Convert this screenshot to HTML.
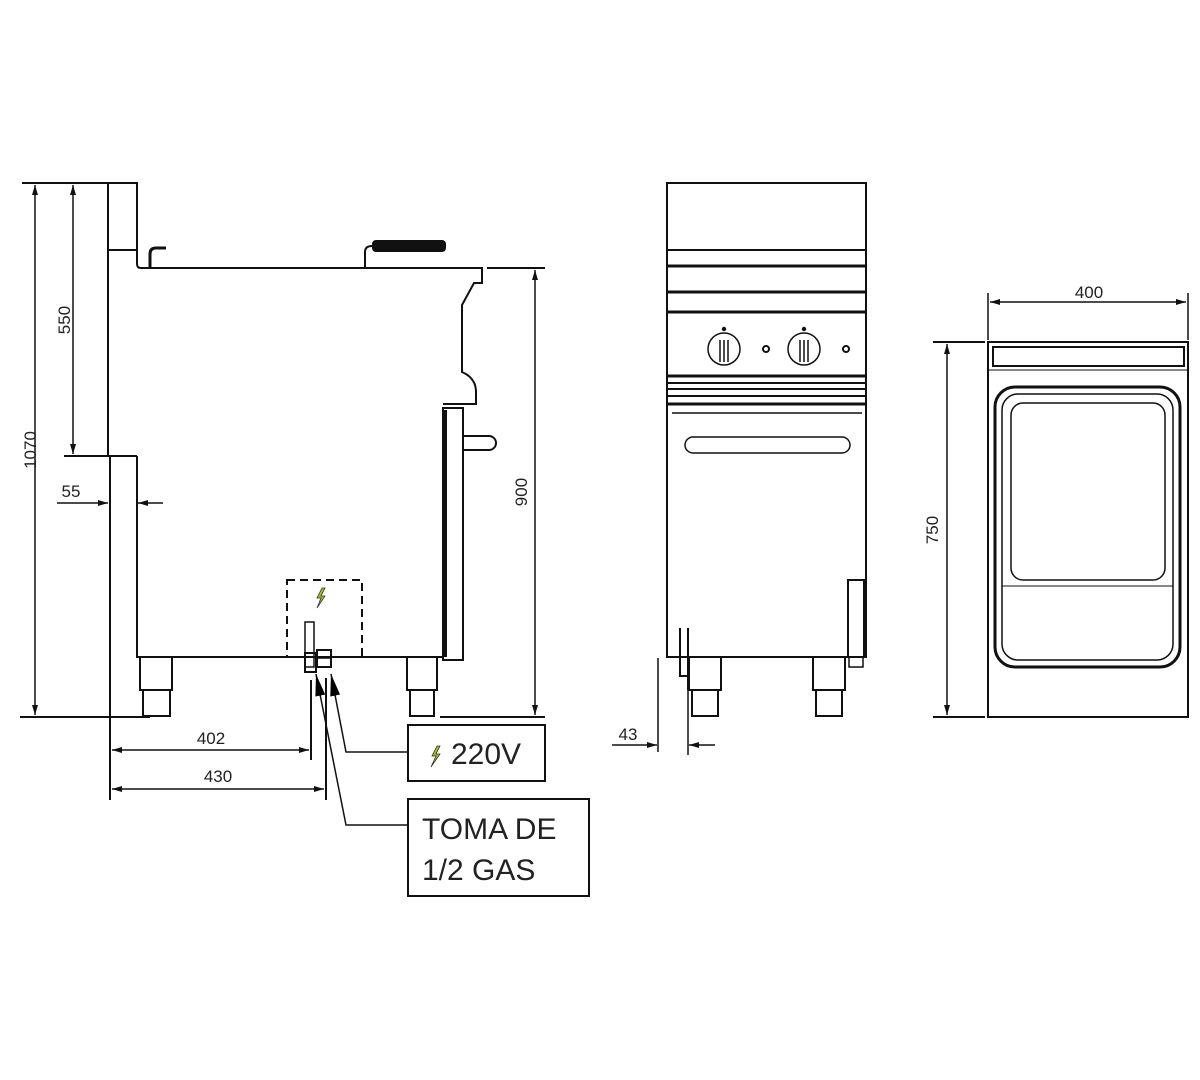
<!DOCTYPE html>
<html><head><meta charset="utf-8"><style>html,body{margin:0;padding:0;background:#fff}svg{display:block}text{font-family:"Liberation Sans",sans-serif;fill:#222}</style></head>
<body>
<svg width="1200" height="1080" viewBox="0 0 1200 1080" xmlns="http://www.w3.org/2000/svg">
<defs>
<marker id="a" viewBox="0 0 10 6" refX="10" refY="3" markerWidth="10" markerHeight="6" orient="auto-start-reverse" markerUnits="userSpaceOnUse"><path d="M0,0 L10,3 L0,6 Z" fill="#111"/></marker>
<marker id="b" viewBox="0 0 22 10" refX="22" refY="5" markerWidth="22" markerHeight="10" orient="auto-start-reverse" markerUnits="userSpaceOnUse"><path d="M0,0 L22,5 L0,10 Z" fill="#000"/></marker>
</defs>
<g fill="none" stroke="#111" stroke-width="2">
<line x1="22" y1="183" x2="107" y2="183"/>
<line x1="20" y1="717" x2="150" y2="717"/>
<line x1="35" y1="185" x2="35" y2="715" marker-start="url(#a)" marker-end="url(#a)" stroke-width="1.5"/>
<line x1="73" y1="185" x2="73" y2="454" marker-start="url(#a)" marker-end="url(#a)" stroke-width="1.5"/>
<line x1="64" y1="456" x2="137" y2="456"/>
<line x1="57" y1="503" x2="108" y2="503" marker-end="url(#a)" stroke-width="1.5"/>
<line x1="163" y1="503" x2="138" y2="503" marker-end="url(#a)" stroke-width="1.5"/>
<line x1="487" y1="268" x2="545" y2="268"/>
<line x1="440" y1="717" x2="545" y2="717"/>
<line x1="535" y1="270" x2="535" y2="715" marker-start="url(#a)" marker-end="url(#a)" stroke-width="1.5"/>
<line x1="110" y1="456" x2="110" y2="800"/>
<line x1="311" y1="680" x2="311" y2="760"/>
<line x1="326" y1="678" x2="326" y2="800"/>
<line x1="112" y1="750" x2="309" y2="750" marker-start="url(#a)" marker-end="url(#a)" stroke-width="1.5"/>
<line x1="112" y1="789" x2="324" y2="789" marker-start="url(#a)" marker-end="url(#a)" stroke-width="1.5"/>
<rect x="108" y="183" width="29" height="67"/>
<line x1="108" y1="183" x2="108" y2="456"/>
<path d="M137,250 V264 Q137,268 141,268 H482 V283 H474 L462,305 V372 Q476,378 476,392 V404 H443"/>
<path d="M150,268 V254 Q150,248 156,248 H166" stroke-width="3"/>
<path d="M365,268 V252 Q365,246 372,246"/>
<rect x="373" y="241" width="72" height="10" rx="3" fill="#111"/>
<rect x="443" y="408" width="20" height="252" stroke-width="2"/>
<line x1="445" y1="410" x2="445" y2="657" stroke-width="4"/>
<path d="M463,436 H489 A7,7 0 0 1 489,450 H463"/>
<path d="M137,456 V657 H443"/>
<path d="M140,657 V690 H172 V657 M143,690 V716 H170 V690"/>
<path d="M407,657 V690 H437 V657 M410,690 V716 H434 V690"/>
<rect x="287" y="580" width="75" height="77" stroke-dasharray="8,5"/>
<rect x="305" y="622" width="9" height="45" stroke-width="1.5"/>
<rect x="305" y="653" width="11" height="19"/>
<rect x="317" y="650" width="14" height="17"/>
<line x1="317" y1="658" x2="331" y2="658" stroke-width="1.5"/>
<polyline points="316,674 346,825 408,825" stroke-width="1.5" marker-start="url(#b)"/>
<polyline points="331,674 346,752 408,752" stroke-width="1.5" marker-start="url(#b)"/>
<rect x="408" y="725" width="137" height="56"/>
<rect x="408" y="799" width="181" height="97"/>
<rect x="667" y="183" width="199" height="474"/>
<line x1="667" y1="250" x2="866" y2="250"/>
<line x1="667" y1="266" x2="866" y2="266" stroke-width="3"/>
<line x1="667" y1="292" x2="866" y2="292" stroke-width="3"/>
<line x1="667" y1="312" x2="866" y2="312" stroke-width="3"/>
<line x1="667" y1="376" x2="866" y2="376" stroke-width="3"/>
<line x1="667" y1="383" x2="866" y2="383" stroke-width="2"/>
<line x1="667" y1="389" x2="866" y2="389" stroke-width="2"/>
<line x1="667" y1="396" x2="866" y2="396" stroke-width="2"/>
<line x1="667" y1="404" x2="866" y2="404" stroke-width="3"/>
<line x1="672" y1="413" x2="862" y2="413" stroke-width="1.5"/>
<circle cx="724" cy="349" r="16" stroke-width="1.5"/>
<circle cx="804" cy="349" r="16" stroke-width="1.5"/>
<path d="M720,340 V362 M724,340 V362 M728,340 V362 M800,340 V362 M804,340 V362 M808,340 V362" stroke-width="1.5"/>
<circle cx="724" cy="329" r="1.2" fill="#111"/><circle cx="804" cy="329" r="1.2" fill="#111"/>
<circle cx="766" cy="349" r="3"/><circle cx="846" cy="349" r="3"/>
<rect x="685" y="437" width="165" height="16" rx="8" stroke-width="1.5"/>
<rect x="848" y="580" width="16" height="77"/>
<rect x="849" y="657" width="14" height="10" stroke-width="1.5"/>
<path d="M680,628 V676 H688 M688,628 V690"/>
<path d="M689,657 V690 H721 V657 M692,690 V716 H718 V690"/>
<path d="M813,657 V690 H845 V657 M816,690 V716 H842 V690"/>
<line x1="658" y1="658" x2="658" y2="752" stroke-width="1.5"/>
<line x1="612" y1="745" x2="657" y2="745" marker-end="url(#a)" stroke-width="1.5"/>
<line x1="715" y1="745" x2="689" y2="745" marker-end="url(#a)" stroke-width="1.5"/>
<line x1="688" y1="690" x2="688" y2="755" stroke-width="1.5"/>
<rect x="988" y="342" width="200" height="375"/>
<rect x="993" y="347" width="191" height="19"/>
<line x1="988" y1="370" x2="1188" y2="370" stroke-width="1"/>
<rect x="995" y="387" width="185" height="280" rx="20" stroke-width="3"/>
<rect x="1002" y="394" width="171" height="266" rx="16" stroke-width="1.5"/>
<rect x="1011" y="403" width="154" height="177" rx="12" stroke-width="1.5"/>
<line x1="1002" y1="586" x2="1173" y2="586" stroke-width="1"/>
<line x1="988" y1="293" x2="988" y2="340" stroke-width="1.5"/>
<line x1="1188" y1="293" x2="1188" y2="340" stroke-width="1.5"/>
<line x1="990" y1="302" x2="1186" y2="302" marker-start="url(#a)" marker-end="url(#a)" stroke-width="1.5"/>
<line x1="933" y1="342" x2="985" y2="342"/>
<line x1="933" y1="717" x2="985" y2="717"/>
<line x1="947" y1="344" x2="947" y2="715" marker-start="url(#a)" marker-end="url(#a)" stroke-width="1.5"/>
</g>
<g fill="#a8b830" stroke="#333" stroke-width="0.8">
<path d="M322,588 L317,598 L321,598 L317,608 L325,596 L321,596 L325,588 Z"/>
<path d="M437,746 L432,756 L436,756 L431,767 L440,754 L436,754 L440,746 Z"/>
</g>
<g font-size="17">
<text x="30" y="450" transform="rotate(-90 30 450)" text-anchor="middle" dy="6">1070</text>
<text x="64" y="320" transform="rotate(-90 64 320)" text-anchor="middle" dy="6">550</text>
<text x="521" y="492" transform="rotate(-90 521 492)" text-anchor="middle" dy="6">900</text>
<text x="932" y="530" transform="rotate(-90 932 530)" text-anchor="middle" dy="6">750</text>
<text x="71" y="497" text-anchor="middle">55</text>
<text x="211" y="744" text-anchor="middle">402</text>
<text x="218" y="782" text-anchor="middle">430</text>
<text x="628" y="740" text-anchor="middle">43</text>
<text x="1089" y="298" text-anchor="middle">400</text>
</g>
<g font-size="30">
<text x="451" y="764">220V</text>
<text x="422" y="839">TOMA DE</text>
<text x="422" y="880">1/2 GAS</text>
</g>
</svg>
</body></html>
